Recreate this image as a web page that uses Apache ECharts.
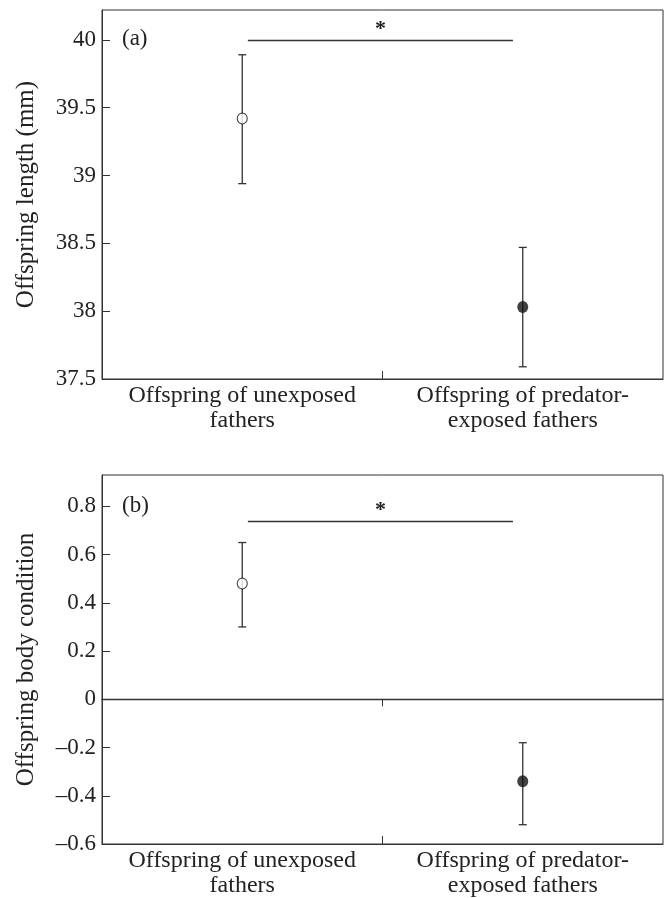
<!DOCTYPE html>
<html>
<head>
<meta charset="utf-8">
<script src="https://cdn.jsdelivr.net/npm/echarts@6/dist/echarts.min.js"></script>
<style>
html,body{margin:0;padding:0;background:#fff;}
#chart{width:665px;height:898px;}
</style>
</head>
<body>
<div id="chart"></div>
<script>
const categories = ['Offspring of unexposed\nfathers', 'Offspring of predator-\nexposed fathers'];
const lengthMean = [39.42, 38.03];
const lengthLow = [38.94, 37.59];
const lengthHigh = [39.89, 38.47];
const conditionMean = [0.48, -0.34];
const conditionLow = [0.30, -0.52];
const conditionHigh = [0.65, -0.18];
const lengthSig = 40;
const conditionSig = 0.74;

const FONT = 'Liberation Serif';
const INK = '#222';
const LINE = '#333';

function dash(v) { return String(v).replace('-', '\u2013'); }

function xAxisMain(gridIndex) {
  return {
    type: 'value', gridIndex: gridIndex, min: -0.5, max: 1.5, interval: 0.5,
    axisLine: { show: true, onZero: false, lineStyle: { color: LINE, width: 1 } },
    axisTick: { show: true, inside: true, length: 8, customValues: [0.5], lineStyle: { color: LINE } },
    axisLabel: {
      customValues: [0, 1], formatter: v => categories[Math.round(v)],
      fontFamily: FONT, fontSize: 24, color: INK, lineHeight: 25, margin: 4
    },
    splitLine: { show: false }
  };
}
function yAxisBase(gridIndex, name, min, max) {
  return {
    type: 'value', gridIndex: gridIndex, min: min, max: max, interval: gridIndex === 0 ? 0.5 : 0.2,
    name: name, nameLocation: 'middle', nameGap: 63,
    nameTextStyle: { fontFamily: FONT, fontSize: 25, color: INK },
    axisLine: { show: true, onZero: false, lineStyle: { color: LINE, width: 1 } },
    axisTick: { show: true, inside: true, length: 8, lineStyle: { color: LINE } },
    axisLabel: {
      showMaxLabel: false, fontFamily: FONT, fontSize: 23, color: INK, margin: 6,
      formatter: v => dash(gridIndex === 0 ? v : Number(v.toFixed(1)))
    },
    splitLine: { show: false }
  };
}
function errBars(xi, yi, low, high) {
  return {
    type: 'custom', xAxisIndex: xi, yAxisIndex: yi, silent: true, z: 2,
    data: low.map((l, i) => [i, l, high[i]]),
    renderItem: function (params, api) {
      const x = api.value(0);
      const a = api.coord([x, api.value(1)]);
      const b = api.coord([x, api.value(2)]);
      const st = { stroke: LINE, lineWidth: 1.3 };
      return {
        type: 'group', children: [
          { type: 'line', shape: { x1: a[0], y1: a[1], x2: b[0], y2: b[1] }, style: st },
          { type: 'line', shape: { x1: a[0] - 4, y1: a[1], x2: a[0] + 4, y2: a[1] }, style: st },
          { type: 'line', shape: { x1: b[0] - 4, y1: b[1], x2: b[0] + 4, y2: b[1] }, style: st }
        ]
      };
    }
  };
}
function points(xi, yi, means, sig) {
  return {
    type: 'scatter', xAxisIndex: xi, yAxisIndex: yi, symbol: 'circle', z: 3, silent: true,
    data: [
      { value: [0, means[0]], symbolSize: [10, 11], itemStyle: { color: '#fff', borderColor: INK, borderWidth: 1.2 } },
      { value: [1, means[1]], symbolSize: [11, 12], itemStyle: { color: '#111' } }
    ],
    markLine: {
      silent: true, symbol: 'none',
      lineStyle: { color: LINE, width: 1.3, type: 'solid' },
      label: { show: true, position: 'middle', formatter: '*', fontFamily: FONT, fontSize: 22, fontWeight: 'bold', color: INK, distance: 0 },
      data: [[{ coord: [0.02, sig] }, { coord: [0.965, sig] }]]
    }
  };
}

const chart = echarts.init(document.getElementById('chart'), null, { renderer: 'canvas' });
chart.setOption({
  animation: false,
  backgroundColor: '#fff',
  grid: [
    { left: 102, top: 10, width: 561, height: 369, show: true, borderColor: LINE, borderWidth: 1, containLabel: false },
    { left: 102, top: 475, width: 561, height: 371, show: true, borderColor: LINE, borderWidth: 1, containLabel: false }
  ],
  xAxis: [
    xAxisMain(0),
    xAxisMain(1),
    {
      type: 'value', gridIndex: 1, min: -0.5, max: 1.5, interval: 0.5, position: 'bottom',
      axisLine: { show: true, onZero: true, lineStyle: { color: LINE, width: 1.3 } },
      axisTick: { show: true, inside: false, length: 7, customValues: [0.5], lineStyle: { color: LINE } },
      axisLabel: { show: false }, splitLine: { show: false }
    }
  ],
  yAxis: [
    yAxisBase(0, 'Offspring length (mm)', 37.5, 40.22),
    yAxisBase(1, 'Offspring body condition', -0.6, 0.93)
  ],
  graphic: [
    { type: 'text', left: 122, top: 27, style: { text: '(a)', font: '23px "Liberation Serif"', fill: INK } },
    { type: 'text', left: 122, top: 494, style: { text: '(b)', font: '23px "Liberation Serif"', fill: INK } }
  ],
  series: [
    errBars(0, 0, lengthLow, lengthHigh),
    points(0, 0, lengthMean, lengthSig),
    errBars(1, 1, conditionLow, conditionHigh),
    points(1, 1, conditionMean, conditionSig)
  ]
});
</script>
</body>
</html>
